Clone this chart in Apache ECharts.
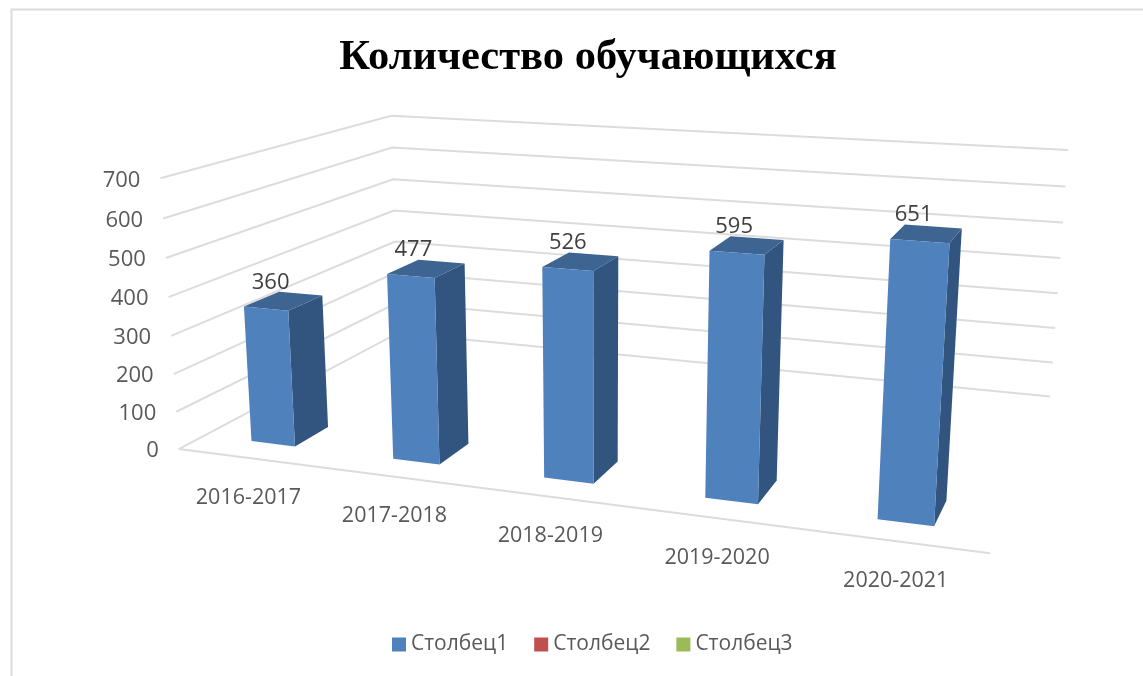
<!DOCTYPE html>
<html><head><meta charset="utf-8">
<style>html,body{margin:0;padding:0;background:#fff}#c{width:1143px;height:676px}</style>
<script src="https://cdn.jsdelivr.net/npm/echarts@6/dist/echarts.min.js"></script>
</head><body><div id="c"></div>
<script>
const categories = ['2016-2017','2017-2018','2018-2019','2019-2020','2020-2021'];
const values1 = [360,477,526,595,651];
const seriesNames = ['Столбец1','Столбец2','Столбец3'];
const seriesColors = ['#4F81BD','#C0504D','#9BBB59'];
const yTicks = [0,100,200,300,400,500,600,700];
const yMax = 700;

// Camera calibration: how the corners of the 3-D box appear (u along x, d depth, h height).
const frontLeftEnds = [[179.3,449],[176.7,411.7],[174,374],[171,336],[168.3,297.3],[165.7,258],[162.7,218],[160,178.7]];
const backRightEnds = [[1050.3,396.7],[1053,362.3],[1055.3,328],[1057.7,293.3],[1060,258],[1062.7,222.3],[1065.7,186.7],[1067.7,150]];
const backLeftEnds = [[397,333],null,null,null,[394.3,210.7],[393.3,179],[392.3,147.7],[391.7,115.7]];
const frontRightFloor = [990,553.3];

function solveCamera(){
  const corr=[];
  for(let k=0;k<8;k++){
    const h=k/7;
    corr.push([0,0,h,frontLeftEnds[k]]);
    corr.push([1,1,h,backRightEnds[k]]);
    if(backLeftEnds[k]) corr.push([0,1,h,backLeftEnds[k]]);
  }
  corr.push([1,0,0,frontRightFloor],[1,0,0,frontRightFloor]);
  const S=1000,N=11,A=[];
  for(let i=0;i<N;i++) A.push(new Array(N+1).fill(0));
  const add=(r,b)=>{for(let i=0;i<N;i++){for(let j=0;j<N;j++)A[i][j]+=r[i]*r[j];A[i][N]+=r[i]*b;}};
  corr.forEach(([u,d,h,[X,Y]])=>{
    const x=X/S,y=Y/S;
    add([u,d,h,1,0,0,0,0,-x*u,-x*d,-x*h],x);
    add([0,0,0,0,u,d,h,1,-y*u,-y*d,-y*h],y);
  });
  for(let i=0;i<N;i++){
    let p=i;for(let r=i+1;r<N;r++)if(Math.abs(A[r][i])>Math.abs(A[p][i]))p=r;
    [A[i],A[p]]=[A[p],A[i]];
    for(let r=0;r<N;r++){if(r===i)continue;const f=A[r][i]/A[i][i];for(let c=i;c<=N;c++)A[r][c]-=f*A[i][c];}
  }
  return A.map((row,i)=>row[N]/row[i]);
}
const m=solveCamera();
function project(u,d,h){
  const w=m[8]*u+m[9]*d+m[10]*h+1;
  return [1000*(m[0]*u+m[1]*d+m[2]*h+m[3])/w,1000*(m[4]*u+m[5]*d+m[6]*h+m[7])/w];
}

const gapWidth=2.19, rowCenter=1/6, rowHalfDepth=0.07;
const gridColor='#dcdcdc', textColor='#595959', labelColor='#404040';
const tickFont='22px "Open Sans"';
const catFont='21.5px "Open Sans"';

function world(params,api,cat,val){
  const c=api.coord([cat,val]),r=params.coordSys;
  return [(c[0]-r.x)/r.width,(r.y+r.height-c[1])/r.height];
}
function renderGrid(params,api){
  const v=api.value(1);
  const h=world(params,api,0,v)[1];
  const a=project(0,0,h),b=project(0,1,h),c=project(1,1,h);
  const kids=[{type:'polyline',silent:true,shape:{points:[a,b,c]},style:{stroke:gridColor,lineWidth:2,fill:null}},
    {type:'text',silent:true,style:{text:String(v),x:a[0]-20,y:a[1]+2,align:'right',verticalAlign:'middle',font:tickFont,fill:textColor}}];
  if(v===0){kids.push({type:'polyline',silent:true,shape:{points:[a,project(1,0,0)]},style:{stroke:gridColor,lineWidth:2,fill:null}});}
  return {type:'group',children:kids};
}
function renderCatLabel(params,api){
  const i=api.value(0);
  const [u]=world(params,api,i,0);
  const p=project(u,0,0);
  return {type:'text',silent:true,style:{text:categories[i],x:p[0],y:p[1]+39.5,align:'center',verticalAlign:'middle',font:catFont,fill:textColor}};
}
function renderBar(params,api){
  const i=api.value(0),v=api.value(1);
  const [uc,h]=world(params,api,i,v);
  const cw=world(params,api,1,0)[0]-world(params,api,0,0)[0];
  const hu=cw/(1+gapWidth)/2;
  const u0=uc-hu,u1=uc+hu,d0=rowCenter-rowHalfDepth,d1=rowCenter+rowHalfDepth;
  const P=(u,d,t)=>project(u,d,t);
  const top=P(uc,rowCenter,h);
  return {type:'group',children:[
    {type:'polygon',silent:true,shape:{points:[P(u1,d0,0),P(u1,d1,0),P(u1,d1,h),P(u1,d0,h)]},style:{fill:'#32557F'}},
    {type:'polygon',silent:true,shape:{points:[P(u0,d0,h),P(u1,d0,h),P(u1,d1,h),P(u0,d1,h)]},style:{fill:'#3E6491'}},
    {type:'polygon',silent:true,shape:{points:[P(u0,d0,0),P(u1,d0,0),P(u1,d0,h),P(u0,d0,h)]},style:{fill:seriesColors[0]}},
    {type:'text',silent:true,style:{text:String(v),x:top[0]-13,y:top[1]-18.5,align:'center',verticalAlign:'middle',font:tickFont,fill:labelColor}}
  ]};
}
const chart=echarts.init(document.getElementById('c'));
chart.setOption({
  animation:false,
  backgroundColor:'#fff',
  title:{text:'Количество обучающихся',left:583,top:32,textAlign:'center',
    textStyle:{fontFamily:'"Liberation Serif"',fontWeight:'bold',fontSize:42.5,color:'#000'}},
  legend:{left:387,top:629,itemWidth:14,itemHeight:14,itemGap:26,data:seriesNames,selectedMode:false,icon:'rect',
    textStyle:{fontFamily:'"Open Sans"',fontSize:21,color:textColor}},
  grid:{left:180,right:150,top:120,bottom:220,show:false},
  xAxis:{type:'category',data:categories,show:false},
  yAxis:{type:'value',min:0,max:yMax,interval:100,show:false},
  graphic:[{type:'polyline',silent:true,shape:{points:[[11.5,676],[11.5,9.5],[1143,9.5]]},style:{stroke:'#dcdcdc',lineWidth:2,fill:null}}],
  series:[
    {type:'custom',name:'axes',silent:true,z:1,renderItem:renderGrid,data:yTicks.map(v=>[0,v]),encode:{x:0,y:1}},
    {type:'custom',name:'labels',silent:true,z:1,renderItem:renderCatLabel,data:categories.map((c,i)=>[i,0]),encode:{x:0,y:1}},
    {type:'custom',name:seriesNames[0],z:3,renderItem:renderBar,itemStyle:{color:seriesColors[0]},data:values1.map((v,i)=>[i,v]),encode:{x:0,y:1}},
    {type:'custom',name:seriesNames[1],z:3,renderItem:renderBar,itemStyle:{color:seriesColors[1]},data:[],encode:{x:0,y:1}},
    {type:'custom',name:seriesNames[2],z:3,renderItem:renderBar,itemStyle:{color:seriesColors[2]},data:[],encode:{x:0,y:1}}
  ]
});
</script></body></html>
